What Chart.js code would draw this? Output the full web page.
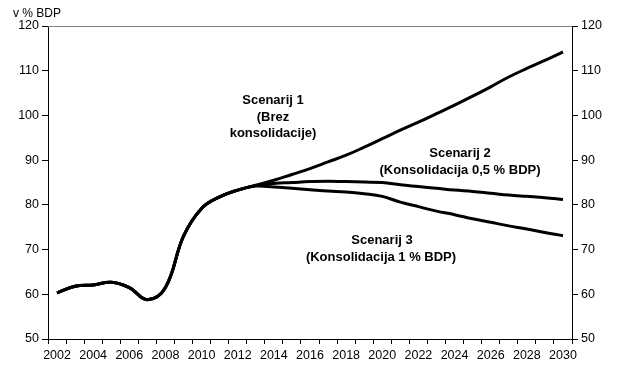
<!DOCTYPE html>
<html>
<head>
<meta charset="utf-8">
<script src="https://cdn.jsdelivr.net/npm/chart.js@4"></script>
<style>
  html, body { margin: 0; padding: 0; background: #fff; }
  #wrap { width: 620px; height: 386px; position: relative; }
</style>
</head>
<body>
<div id="wrap"><canvas id="debtChart"></canvas></div>
<script>
// Years on the category axis
const years = []
for (let y = 2002; y <= 2030; y++) years.push(String(y))

// Debt in % of GDP, 2002-2012 (common history)
const history = [60.3, 61.8, 62.1, 62.7, 61.5, 58.8, 61.5, 73.0, 79.2, 81.8, 83.3]

// Projections 2013-2030
const scenario1 = [84.4, 85.5, 86.8, 88.1, 89.6, 91.1, 92.9, 94.8, 96.7, 98.5, 100.4, 102.3, 104.3, 106.4, 108.6, 110.5, 112.3, 114.2]
const scenario2 = [84.3, 84.8, 85.0, 85.2, 85.3, 85.2, 85.1, 85.0, 84.5, 84.1, 83.7, 83.3, 83.0, 82.6, 82.2, 81.9, 81.6, 81.2]
const scenario3 = [84.2, 84.0, 83.7, 83.4, 83.1, 82.9, 82.5, 81.9, 80.6, 79.6, 78.6, 77.8, 76.9, 76.1, 75.3, 74.6, 73.8, 73.1]

const yTicks = [50, 60, 70, 80, 90, 100, 110, 120]

const FONT = "'Liberation Sans', Arial, sans-serif"

function series(scen) {
  return {
    data: history.concat(scen),
    borderColor: "#000",
    borderWidth: 3,
    pointRadius: 0,
    tension: 0.4,
    fill: false,
  }
}

// Top border of the plot and the text labels
const extras = {
  id: "extras",
  afterDraw(chart) {
    const { ctx, chartArea } = chart
    ctx.save()
    ctx.strokeStyle = "#808080"
    ctx.lineWidth = 1
    ctx.beginPath()
    ctx.moveTo(chartArea.left, chartArea.top + 0.5)
    ctx.lineTo(chartArea.right, chartArea.top + 0.5)
    ctx.stroke()

    ctx.fillStyle = "#000"
    ctx.textBaseline = "middle"
    ctx.textAlign = "left"
    ctx.font = "12px " + FONT
    ctx.fillText("v % BDP", 13, 14)

    ctx.textAlign = "center"
    ctx.font = "bold 13px " + FONT
    const labels = [
      ["Scenarij 1", 273, 100], ["(Brez", 273, 117], ["konsolidacije)", 273, 133],
      ["Scenarij 2", 460, 153], ["(Konsolidacija 0,5 % BDP)", 460, 170],
      ["Scenarij 3", 382, 240], ["(Konsolidacija 1 % BDP)", 381, 257],
    ]
    labels.forEach(([t, x, y]) => ctx.fillText(t, x, y))
    ctx.restore()
  },
}

const yAxis = (position) => ({
  position: position,
  min: 50,
  max: 120,
  afterBuildTicks: (axis) => { axis.ticks = yTicks.map((v) => ({ value: v })) },
  afterFit: (axis) => { axis.width = 48 },
  border: { color: "#000", width: 1 },
  grid: { drawOnChartArea: false, color: "#000", tickLength: 6 },
  ticks: { color: "#000", font: { family: FONT, size: 12.5 }, padding: 3 },
})

new Chart(document.getElementById("debtChart"), {
  type: "line",
  data: {
    labels: years,
    datasets: [series(scenario1), series(scenario2), series(scenario3)],
  },
  options: {
    responsive: true,
    maintainAspectRatio: false,
    animation: false,
    layout: { padding: { top: 26, left: 0, right: 0, bottom: 0 } },
    plugins: { legend: { display: false }, tooltip: { enabled: false } },
    scales: {
      x: {
        offset: true,
        afterFit: (axis) => { axis.height = 47 },
        border: { color: "#000", width: 1 },
        grid: { offset: true, drawOnChartArea: false, color: "#000", tickLength: 5 },
        ticks: {
          autoSkip: false,
          maxRotation: 0,
          color: "#000",
          padding: 4,
          font: { family: FONT, size: 12.5 },
          callback: function (v, i) { return i % 2 === 0 ? this.getLabelForValue(v) : "" },
        },
      },
      y: yAxis("left"),
      y2: yAxis("right"),
    },
  },
  plugins: [extras],
})
</script>
</body>
</html>
